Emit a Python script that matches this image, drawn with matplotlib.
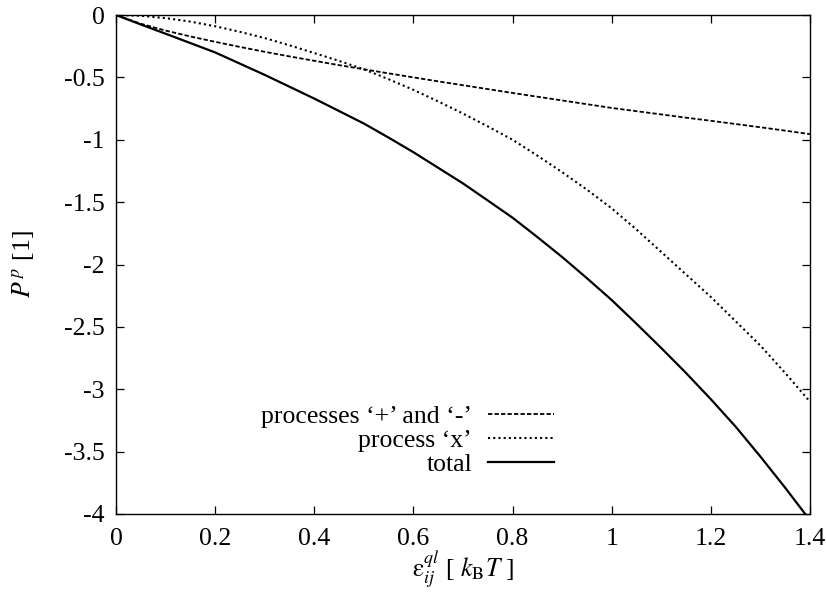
import matplotlib
matplotlib.use("Agg")
import matplotlib.pyplot as plt

# ---- data ----
eps = [0.0, 0.05, 0.1, 0.15, 0.2, 0.25, 0.3, 0.35, 0.4, 0.45, 0.5, 0.55, 0.6, 0.65,
       0.7, 0.75, 0.8, 0.85, 0.9, 0.95, 1.0, 1.05, 1.1, 1.15, 1.2, 1.25, 1.3, 1.35, 1.4]
p_plus_minus = [0.0, -0.07, -0.125, -0.172, -0.215, -0.256, -0.295, -0.332, -0.367,
                -0.402, -0.435, -0.468, -0.50, -0.532, -0.563, -0.594, -0.625, -0.655,
                -0.685, -0.715, -0.745, -0.771, -0.797, -0.823, -0.848, -0.874, -0.900,
                -0.927, -0.955]
p_x = [0.0, -0.006, -0.025, -0.053, -0.09, -0.135, -0.185, -0.243, -0.305, -0.368,
       -0.435, -0.515, -0.60, -0.693, -0.79, -0.893, -1.00, -1.127, -1.26, -1.40,
       -1.55, -1.72, -1.90, -2.08, -2.26, -2.455, -2.65, -2.87, -3.10]
p_total = [0.0, -0.076, -0.15, -0.225, -0.30, -0.39, -0.48, -0.575, -0.67, -0.77,
           -0.87, -0.983, -1.10, -1.225, -1.35, -1.487, -1.625, -1.78, -1.94, -2.11,
           -2.285, -2.475, -2.67, -2.87, -3.08, -3.30, -3.54, -3.79, -4.05]

labels = ["processes \u2018+\u2019 and \u2018-\u2019", "process \u2018x\u2019", "total"]
xticks = [0, 0.2, 0.4, 0.6, 0.8, 1, 1.2, 1.4]
xticklabels = ["0", "0.2", "0.4", "0.6", "0.8", "1", "1.2", "1.4"]
yticks = [0, -0.5, -1, -1.5, -2, -2.5, -3, -3.5, -4]
yticklabels = ["0", "-0.5", "-1", "-1.5", "-2", "-2.5", "-3", "-3.5", "-4"]

plt.rcParams["font.family"] = ["Liberation Serif", "DejaVu Serif"]
plt.rcParams["mathtext.fontset"] = "stix"
plt.rcParams["axes.unicode_minus"] = False

FS = 18.5

fig = plt.figure(figsize=(8.26, 5.92), dpi=100)
ax = fig.add_axes([116 / 826, 78 / 592, 694 / 826, 499 / 592])

ax.plot(eps, p_plus_minus, color="black", lw=1.3, linestyle=(0, (2.4, 1.2)), label=labels[0])
ax.plot(eps, p_x, color="black", lw=1.5, linestyle=(0, (1.0, 1.5)), label=labels[1])
ax.plot(eps, p_total, color="black", lw=1.6, linestyle="-", label=labels[2])

ax.set_xlim(0, 1.4)
ax.set_ylim(-4, 0)
ax.set_xticks(xticks)
ax.set_xticklabels(xticklabels)
ax.set_yticks(yticks)
ax.set_yticklabels(yticklabels)
ax.tick_params(direction="in", length=6, width=0.9, top=True, right=True,
               labelsize=FS)
ax.tick_params(axis="x", pad=10)
ax.tick_params(axis="y", pad=8)
for s in ax.spines.values():
    s.set_linewidth(1.0)

xlab = "$\\mathrm{\u03b5}_{ij}^{ql}$ [ $k_{\\mathrm{B}}T$ ]"
ax.set_xlabel(xlab, fontsize=FS, labelpad=-1)
ax.set_ylabel(r"$P^{\,p}$ [1]", fontsize=FS, labelpad=20)

leg = ax.legend(loc="lower right", bbox_to_anchor=(0.649, 0.05), frameon=False,
                markerfirst=False, handlelength=2.55, handletextpad=0.62,
                labelspacing=0.05, borderpad=0, fontsize=FS)
for t in leg.get_texts():
    t.set_ha("right")
leg._legend_box.align = "right"

fig.savefig("out.png", dpi=100)
